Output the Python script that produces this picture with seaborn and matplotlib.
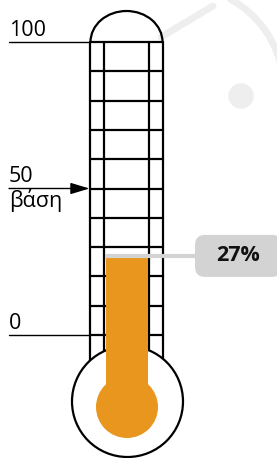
import numpy as np
import matplotlib
matplotlib.use("Agg")
import matplotlib.pyplot as plt
import seaborn as sns
from matplotlib.patches import Circle, Arc, FancyBboxPatch

# ---- data ----
value = [27]
value_label = ["27%"]
tick_values = [0, 50, 100]
tick_labels = ["0", "50\nβάση", "100"]
grid_values = list(range(0, 101, 10))

sns.set_theme(style="white")
plt.rcParams['font.family'] = ['Open Sans', 'DejaVu Sans']

W, H, DPI = 277, 458, 100
S = 2.93  # pixels per value unit

fig = plt.figure(figsize=(W / DPI, H / DPI), dpi=DPI)
ax = fig.add_axes([0, 0, 1, 1])
ax.set_xlim(0, W / S)
ax.set_ylim((335 - H) / S, 335 / S)
ax.set_aspect('equal')
ax.axis('off')

def px(x):
    return x / S

def py(y):
    return (335 - y) / S

# watermark (faint)
wm = '#eeeeee'
ax.plot([px(161), px(213)], [py(37), py(6)], color=wm, lw=5, solid_capstyle='round', zorder=0)
ax.add_patch(Arc((px(180), py(90)), px(208), px(208), theta1=8, theta2=62,
                 color=wm, lw=5, zorder=0))
ax.add_patch(Circle((px(241), py(96)), px(12), color=wm, zorder=0))

lw = 1.6
cx = px(126.5)
half_out = px(36)
half_in = px(22)
bulb_c = (px(127.5), py(401.5))
bulb_r = px(55.5)
ball_c = (px(127), py(407))
ball_r = px(31)

# tube
for xx in [cx - half_out, cx + half_out, cx - half_in, cx + half_in]:
    ax.plot([xx, xx], [bulb_c[1], 100], color='black', lw=lw, zorder=1)
for g in grid_values:
    ax.plot([cx - half_out, cx + half_out], [g, g], color='black', lw=lw, zorder=1)
ax.add_patch(Arc((cx, 100), 2 * half_out, 2 * px(31), theta1=0, theta2=180,
                 color='black', lw=lw, zorder=1))
# bulb
ax.add_patch(Circle(bulb_c, bulb_r, facecolor='white', edgecolor='black', lw=lw, zorder=2))

# fill
orange = '#e8961e'
ax.bar([cx], [value[0] - ball_c[1]], bottom=ball_c[1], width=2 * half_in - px(2),
       color=orange, zorder=3, linewidth=0)
ax.add_patch(Circle(ball_c, ball_r, facecolor=orange, edgecolor='none', zorder=3))

# tick labels
x0 = px(9)
fs = 15.5
for v, lab in zip(tick_values, tick_labels):
    if v == 50:
        ax.annotate('', xy=(cx - half_out - px(1), v), xytext=(x0, v),
                    arrowprops=dict(arrowstyle='-|>,head_length=0.4,head_width=0.12',
                                    color='black', lw=1.0,
                                    mutation_scale=29, shrinkA=0, shrinkB=0), zorder=4)
        ax.text(x0, v + px(1), lab.split('\n')[0], ha='left', va='bottom', fontsize=fs, color='black')
        ax.text(x0, v - px(0), lab.split('\n')[1], ha='left', va='top', fontsize=fs, color='black')
    else:
        ax.plot([x0, cx - half_out], [v, v], color='black', lw=1.0, zorder=1)
        ax.text(x0, v + px(1), lab, ha='left', va='bottom', fontsize=fs, color='black')

# callout
gray = '#d3d3d3'
box_x0, box_x1 = px(195), px(282)
box_h = px(42)
ax.plot([cx - half_in + px(1), box_x0 + px(2)], [value[0], value[0]], color=gray, lw=3, zorder=4,
        solid_capstyle='butt')
ax.add_patch(FancyBboxPatch((box_x0, value[0] - box_h / 2), box_x1 - box_x0, box_h,
                            boxstyle=f"round,pad=0,rounding_size={px(10)}",
                            facecolor=gray, edgecolor='none', zorder=4))
ax.text(px(238), value[0], value_label[0], ha='center', va='center', fontsize=15.5,
        fontweight='bold', color='#111111', zorder=5)

fig.savefig('out.png', dpi=DPI)
